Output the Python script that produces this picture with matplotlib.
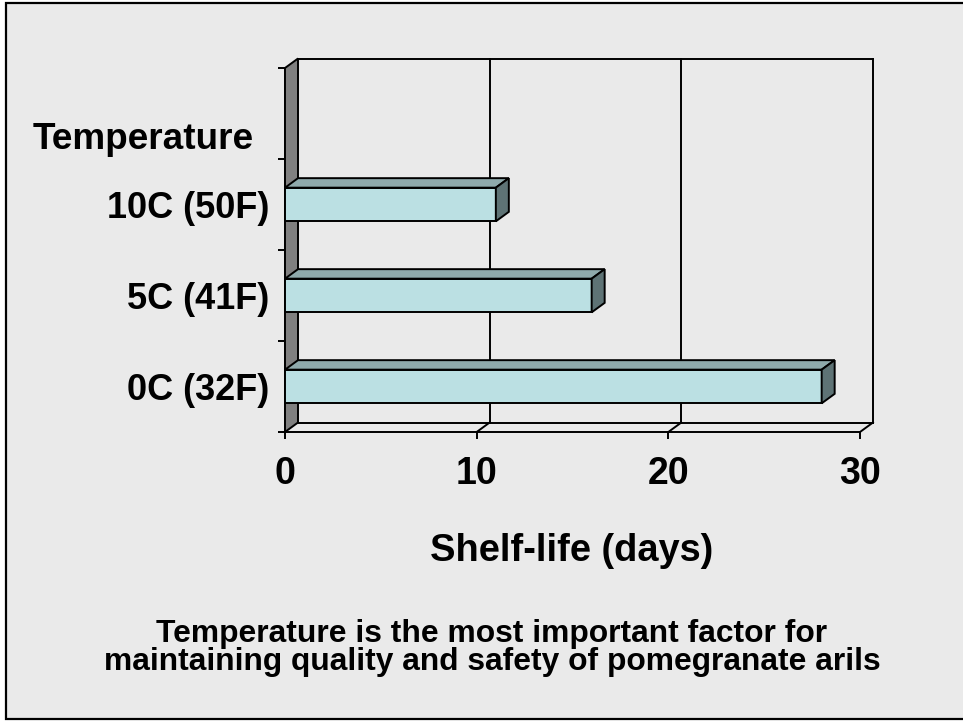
#!/usr/bin/env python3
"""Pomegranate arils shelf-life vs temperature, Excel-style 3D bar chart."""

import matplotlib
matplotlib.use('Agg')
import matplotlib.pyplot as plt
from matplotlib.patches import Rectangle, Polygon

plt.rcParams.update({
    'font.family': ['Liberation Sans', 'DejaVu Sans'],
    'font.weight': 'bold',
})

# --- data ---
categories = ['0C (32F)', '5C (41F)', '10C (50F)']
shelf_life = [28, 16, 11]
x_ticks = [0, 10, 20, 30]
n_slots = 4          # top slot is left empty in the original

BG = '#EAEAEA'
FRONT = '#BBE0E3'
TOP = '#8FAAAC'
SIDE = '#5E7375'
WALL = '#808080'
LW = 1.4

fig = plt.figure(figsize=(9.63, 7.21), dpi=100, facecolor='white')
W, H = 963, 721

# outer panel with border (right edge runs off the picture)
fig.patches.append(Rectangle((6 / W, 2 / H), 1.2, 716 / H, transform=fig.transFigure,
                             facecolor=BG, edgecolor='black', lw=1.6, zorder=-10))

ax = fig.add_axes([285 / W, (H - 432) / H, 575 / W, 364 / H])
ax.set_xlim(0, 30)
ax.set_ylim(-0.5, n_slots - 0.5)
ax.patch.set_visible(False)
for s in ('top', 'right'):
    ax.spines[s].set_visible(False)
for s in ('left', 'bottom'):
    ax.spines[s].set_linewidth(LW)

# 3D depth, given in pixels and turned into data units
bb = ax.get_window_extent()
DX = 13 / (bb.width / 30)
DY = 9.5 / (bb.height / n_slots)
y0, y1 = -0.5, n_slots - 0.5
xmax = x_ticks[-1]

kw = dict(color='black', lw=LW, clip_on=False, zorder=2)
# back wall: frame + gridlines
ax.plot([DX, xmax + DX], [y1 + DY, y1 + DY], **kw)
ax.plot([xmax + DX, xmax + DX], [y0 + DY, y1 + DY], **kw)
for xt in x_ticks[1:-1]:
    ax.plot([xt + DX, xt + DX], [y0 + DY, y1 + DY], **kw)
# floor
ax.plot([DX, xmax + DX], [y0 + DY, y0 + DY], **kw)
for xt in x_ticks[1:]:
    ax.plot([xt, xt + DX], [y0, y0 + DY], **kw)
# left wall
ax.add_patch(Polygon([(0, y0), (0, y1), (DX, y1 + DY), (DX, y0 + DY)],
                     closed=True, facecolor=WALL, edgecolor='black', lw=LW,
                     clip_on=False, zorder=3))

# bars
ypos = list(range(len(categories)))
bh = 0.37
ax.barh(ypos, shelf_life, height=bh, color=FRONT, edgecolor='black', lw=LW,
        zorder=5, clip_on=False)
for y, v in zip(ypos, shelf_life):
    t, b = y + bh / 2, y - bh / 2
    ax.add_patch(Polygon([(0, t), (v, t), (v + DX, t + DY), (DX, t + DY)],
                         closed=True, facecolor=TOP, edgecolor='black', lw=LW,
                         clip_on=False, zorder=5))
    ax.add_patch(Polygon([(v, b), (v, t), (v + DX, t + DY), (v + DX, b + DY)],
                         closed=True, facecolor=SIDE, edgecolor='black', lw=LW,
                         clip_on=False, zorder=5))

# ticks and labels
ax.set_xticks(x_ticks)
ax.set_xticklabels([str(x) for x in x_ticks], fontsize=27, fontweight='bold')
ax.tick_params(axis='x', direction='out', length=5, width=LW, pad=12)
ax.set_yticks(ypos)
ax.set_yticklabels(categories, fontsize=26, fontweight='bold')
ax.set_yticks([k - 0.5 for k in range(n_slots + 1)], minor=True)
ax.tick_params(axis='y', which='major', length=0, pad=11)
ax.tick_params(axis='y', which='minor', direction='out', length=5, width=LW)

fig.text(33 / W, 1 - 149 / H, 'Temperature', fontsize=26.6, fontweight='bold',
         ha='left', va='baseline')
fig.text(572 / W, 1 - 561 / H, 'Shelf-life (days)', fontsize=27.4,
         fontweight='bold', ha='center', va='baseline')
fig.text(492 / W, 1 - 642 / H, 'Temperature is the most important factor for',
         fontsize=22.9, fontweight='bold', ha='center', va='baseline')
fig.text(492 / W, 1 - 670 / H, 'maintaining quality and safety of pomegranate arils',
         fontsize=22.9, fontweight='bold', ha='center', va='baseline')

fig.savefig('out.png', dpi=100, facecolor='white')
